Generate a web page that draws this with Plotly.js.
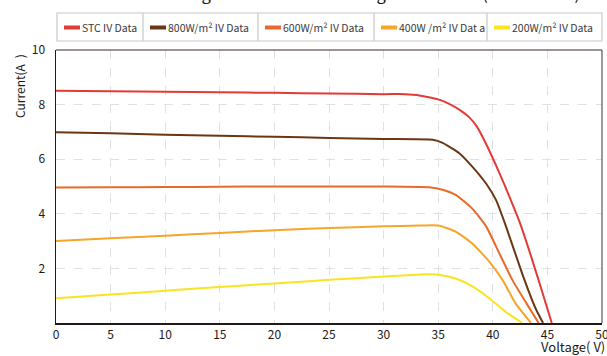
<!DOCTYPE html>
<html>
<head>
<meta charset="utf-8">
<script src="https://cdn.plot.ly/plotly-3.0.1.min.js"></script>
<style>html,body{margin:0;padding:0;background:#fff;}#chart{width:607px;height:356px;}</style>
</head>
<body>
<div id="chart"></div>
<script>
// ---- data ----
var seriesNames = ["STC IV Data", "800W/m\u00b2 IV Data", "600W/m\u00b2 IV Data", "400W /m\u00b2 IV Dat a", "200W/m\u00b2 IV Data"];
var seriesColors = ["#E23B36", "#6A3716", "#E96A28", "#F6A52B", "#F8E423"];

var stcV = [0, 5, 10, 15, 20, 25, 30, 31.5, 33, 35, 36, 37, 37.8, 38.5, 39.4, 40.6, 41.5, 42.5, 43.5, 44.4, 45.4];
var stcI = [8.51, 8.49, 8.47, 8.45, 8.43, 8.41, 8.38, 8.39, 8.35, 8.19, 8.03, 7.80, 7.55, 7.22, 6.55, 5.50, 4.65, 3.65, 2.45, 1.30, 0];

var v800 = [0, 5, 10, 15, 20, 25, 30, 34.5, 35.4, 36.9, 38.1, 39.4, 40.3, 41.2, 42.7, 43.9, 44.6];
var i800 = [6.99, 6.95, 6.90, 6.86, 6.82, 6.78, 6.74, 6.71, 6.60, 6.23, 5.74, 5.10, 4.50, 3.55, 1.80, 0.55, 0];

var v600 = [0, 5, 10, 15, 20, 25, 30, 34.2, 35.4, 36.6, 38.1, 39.4, 40.6, 41.8, 43.1, 44.2];
var i600 = [4.96, 4.97, 4.98, 4.99, 5.00, 5.00, 5.00, 4.97, 4.88, 4.69, 4.20, 3.53, 2.55, 1.57, 0.71, 0];

var v400 = [0, 5, 10, 15, 20, 25, 30, 33.3, 35, 36.6, 38.1, 39.7, 40.9, 42.1, 43.5];
var i400 = [3.00, 3.10, 3.20, 3.30, 3.40, 3.48, 3.54, 3.57, 3.57, 3.35, 2.92, 2.24, 1.57, 0.71, 0];

var v200 = [0, 5, 10, 15, 20, 25, 30, 33.3, 35, 36.6, 38.1, 39.7, 41.2, 42.7];
var i200 = [0.91, 1.04, 1.18, 1.32, 1.45, 1.58, 1.70, 1.78, 1.77, 1.63, 1.35, 0.90, 0.40, 0];

var xTicks = [0, 5, 10, 15, 20, 25, 30, 35, 40, 45, 50];
var yTicks = [2, 4, 6, 8, 10];

var titleText = "I-V Curves Using Five Irradiance Settings on Module (Cell at 25\u00b0C)";
var xTitle = "Voltage( V)";
var yTitle = "Current(A\u2002)";

// ---- chart ----
var FONT = "Noto Sans CJK KR, Noto Sans, sans-serif";
var TXT = "#231815";
var allV = [stcV, v800, v600, v400, v200];
var allI = [stcI, i800, i600, i400, i200];

var traces = allV.map(function (v, k) {
  return {
    type: "scatter", mode: "lines", x: v, y: allI[k], name: seriesNames[k],
    line: {color: seriesColors[k], width: 2, shape: "spline", smoothing: 0.5},
    showlegend: false, hoverinfo: "x+y+name"
  };
});

// legend drawn as a boxed table row (cells), built from the series arrays
var cellEdges = [57, 143, 258, 374, 487, 602];   // pixel columns of the legend cells
var plotL = 56, plotR = 602, plotT = 50, plotB = 323;
function px2x(p) { return (p - plotL) / (plotR - plotL); }
function py2y(p) { return (plotB - p) / (plotB - plotT); }
var legTop = py2y(13), legBot = py2y(41), legMid = py2y(27.5);

var shapes = [
  {type: "rect", xref: "paper", yref: "paper", x0: px2x(cellEdges[0]), x1: px2x(cellEdges[5]), y0: legBot, y1: legTop,
   line: {color: "#c8c8c8", width: 1.2}, fillcolor: "rgba(0,0,0,0)"},
  {type: "line", xref: "paper", yref: "paper", x0: 1, x1: 1, y0: 0, y1: 1, line: {color: "#7a7a7a", width: 1.5}},
  {type: "line", xref: "paper", yref: "paper", x0: 0, x1: 1, y0: 1, y1: 1, line: {color: "#3a2a2a", width: 1.2}}
];
var annotations = [];
for (var k = 0; k < seriesNames.length; k++) {
  if (k > 0) {
    shapes.push({type: "line", xref: "paper", yref: "paper", x0: px2x(cellEdges[k]), x1: px2x(cellEdges[k]),
                 y0: legBot, y1: legTop, line: {color: "#c8c8c8", width: 1.2}});
  }
  var sx = cellEdges[k] + 7;
  shapes.push({type: "line", xref: "paper", yref: "paper", x0: px2x(sx), x1: px2x(sx + 16), y0: legMid, y1: legMid,
               line: {color: seriesColors[k], width: 4}});
  annotations.push({xref: "paper", yref: "paper", x: px2x(sx + 16), y: legMid, xanchor: "left", yanchor: "middle",
                    text: seriesNames[k], showarrow: false, font: {family: FONT, size: 10.5, color: "#3a3a3a"}});
}
annotations.push({xref: "paper", yref: "paper", x: px2x(19), y: py2y(86), text: yTitle, textangle: -90,
                  showarrow: false, xanchor: "center", yanchor: "middle", font: {family: FONT, size: 12, color: TXT}});
annotations.push({xref: "paper", yref: "paper", x: px2x(606), y: py2y(357), text: xTitle, borderpad: 0,
                  showarrow: false, xanchor: "right", yanchor: "bottom", font: {family: FONT, size: 13, color: TXT}});

var layout = {
  width: 607, height: 356,
  margin: {l: plotL, r: 607 - plotR, t: plotT, b: 356 - plotB, pad: 0},
  paper_bgcolor: "#ffffff", plot_bgcolor: "#ffffff",
  font: {family: FONT, size: 12, color: TXT},
  title: {text: titleText, font: {family: FONT, size: 16.5, color: TXT}, x: 0.55, xanchor: "center",
          y: 1, yref: "container", yanchor: "bottom"},
  xaxis: {range: [0, 50], tickvals: xTicks, ticktext: xTicks.map(String), showgrid: true, gridcolor: "#e0e0e0",
          griddash: "dash", gridwidth: 1, zeroline: false, showline: true, linecolor: TXT, linewidth: 1.5,
          mirror: false, ticks: "", ticklabelstandoff: 0, ticklabeloverflow: "allow",
          tickfont: {family: FONT, size: 12, color: TXT}, fixedrange: true},
  yaxis: {range: [0, 10], tickvals: yTicks, ticktext: yTicks.map(String), showgrid: true, gridcolor: "#e0e0e0",
          griddash: "dash", gridwidth: 1, zeroline: false, showline: true, linecolor: TXT, linewidth: 1.5,
          mirror: false, ticks: "", ticklabelstandoff: 7, tickfont: {family: FONT, size: 12, color: TXT}, fixedrange: true},
  shapes: shapes,
  annotations: annotations,
  showlegend: false
};

Plotly.newPlot("chart", traces, layout, {displayModeBar: false, staticPlot: true});
</script>
</body>
</html>
